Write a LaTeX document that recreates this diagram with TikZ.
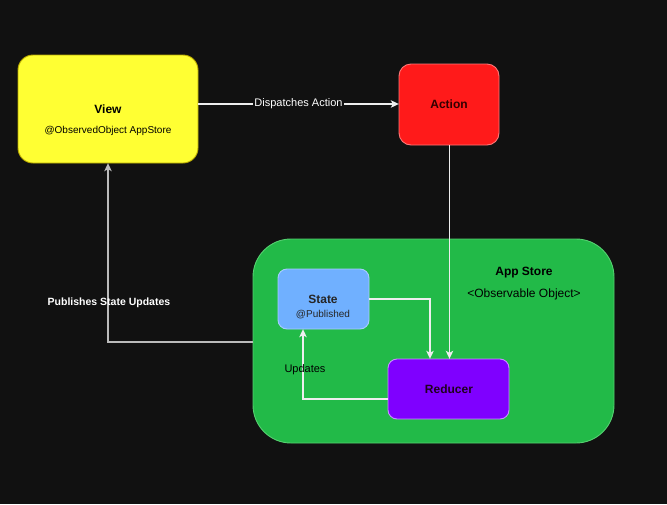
\documentclass[tikz,border=0pt]{standalone}
\usepackage{fontspec}
\setmainfont{Liberation Sans}
\usetikzlibrary{arrows.meta,positioning}
\definecolor{bg}{HTML}{111111}
\definecolor{viewfill}{HTML}{FFFF33}
\definecolor{viewline}{HTML}{B8A800}
\definecolor{actfill}{HTML}{FF1A1A}
\definecolor{actline}{HTML}{FF7777}
\definecolor{storefill}{HTML}{22BA48}
\definecolor{storeline}{HTML}{55D070}
\definecolor{statefill}{HTML}{70B0FF}
\definecolor{stateline}{HTML}{A8CCFF}
\definecolor{redfill}{HTML}{7F00FF}
\definecolor{redline}{HTML}{C890FF}
\definecolor{edge}{HTML}{EEEEEE}
\definecolor{edgegrey}{HTML}{BBBBBB}
\begin{document}
\begin{tikzpicture}[x=1pt,y=-1pt,
  box/.style={draw, line width=0.9pt, inner sep=0pt},
  conn/.style={draw=edge, line width=1.2pt, -{Stealth[length=8pt,width=7.5pt,inset=2pt]}},
  t12b/.style={font=\fontsize{12}{14}\selectfont\bfseries},
  t10/.style={font=\fontsize{10}{12}\selectfont},
  elabel/.style={font=\fontsize{11}{13}\selectfont, text=white, inner sep=1pt}
]
\fill[bg] (0,0) rectangle (667,504);
\useasboundingbox (0,0) rectangle (667,504);

% boxes
\path[box, draw=viewline, fill=viewfill, rounded corners=15pt] (18,55) rectangle (198,163);
\node (view) at (108,109) [minimum width=180pt, minimum height=108pt] {};
\node[t12b, text=black] (viewt) at (108,109) {View};
\node[t10, text=black] (viewsub) at (108,131) {@ObservedObject AppStore};

\path[box, draw=actline, fill=actfill, rounded corners=12pt] (399,64) rectangle (499,145);
\node (action) at (449,104.5) [minimum width=100pt, minimum height=81pt] {};
\node[t12b, text=black!80!red] (actiont) at (449,104) {Action};

\path[box, draw=storeline, fill=storefill, rounded corners=38pt] (253,239) rectangle (614,443);
\node (store) at (433.5,341) [minimum width=361pt, minimum height=204pt] {};
\node[t12b, text=black] (storet) at (524,273) {App Store};
\node[font=\fontsize{12}{14}\selectfont, text=black] (storesub) at (524,294) {<Observable Object>};

\path[box, draw=stateline, fill=statefill, rounded corners=9pt] (278,269) rectangle (369,329);
\node (state) at (323.5,299) [minimum width=91pt, minimum height=60pt] {};
\node[t12b, text=black!85] (statet) at (323,299) {State};
\node[t10, text=black!85] (statesub) at (323,315) {@Published};

\path[box, draw=redline, fill=redfill, rounded corners=9pt] (388,359) rectangle (509,419);
\node (reducer) at (448.5,389) [minimum width=121pt, minimum height=60pt] {};
\node[t12b, text=black!75!violet] (reducert) at (449,389) {Reducer};

% connectors
\draw[conn] (view.east |- 0,104) -- node[elabel, fill=bg] {Dispatches Action} (action.west |- 0,104);
\draw[conn] (action.south -| 449.5,0) -- (reducer.north -| 449.5,0);
\draw[conn] (state.east |- 0,299) -| (reducer.north -| 430,0);
\draw[conn] (reducer.west |- 0,399) -| (state.south -| 303,0);
\node[font=\fontsize{11}{13}\selectfont, text=black] (updl) at (305,370) {Updates};
\draw[conn, draw=edgegrey] (store.west |- 0,342) -| (view.south -| 108,0);
\node[elabel, font=\fontsize{10.5}{13}\selectfont\bfseries] (publ) at (109,303) {Publishes State Updates};
\end{tikzpicture}
\end{document}
